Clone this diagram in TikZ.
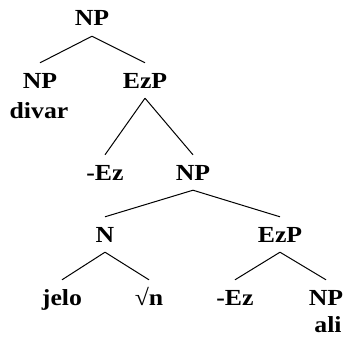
\documentclass[tikz,border=0pt]{standalone}
\usepackage{fontspec}
\setmainfont{Liberation Serif}[FakeStretch=1.12]
\usepackage{tikz}
\usetikzlibrary{positioning}

\begin{document}
\begin{tikzpicture}[x=1pt,y=-1pt,
	cat/.style={font=\fontsize{23}{27}\selectfont\bfseries, anchor=base, inner xsep=0pt, inner ysep=10pt, text height=15pt, text depth=0pt},
	word/.style={font=\fontsize{23}{27}\selectfont\bfseries, anchor=base, inner sep=0pt}]
	\useasboundingbox (0,0) rectangle (345,337);
	\node[cat] (np) at (92,26) {NP};
	\node[cat] (np-l) at (40,88) {NP};
	\node[word] (divar) at (39,118) {divar};
	\node[cat] (ezp) at (145,88) {EzP};
	\node[cat] (ez-a) at (105,180) {-Ez};
	\node[cat] (np-m) at (193,180) {NP};
	\node[cat] (n) at (105,242) {N};
	\node[cat] (ezp-r) at (280,242) {EzP};
	\node[cat] (jelo) at (62,305) {jelo};
	\node[cat] (root) at (149,305) {√n};
	\node[cat] (ez-b) at (235,305) {-Ez};
	\node[cat] (np-r) at (326,305) {NP};
	\node[word] (ali) at (328,332) {ali};
	\path[line width=1pt]
	(np.south) edge (np-l.north)
	edge (ezp.north)
	(ezp.south) edge (ez-a.north)
	edge (np-m.north)
	(np-m.south) edge (n.north)
	edge (ezp-r.north)
	(n.south) edge (jelo.north)
	edge (root.north)
	(ezp-r.south) edge (ez-b.north)
	edge (np-r.north)
	;
\end{tikzpicture}
\end{document}
